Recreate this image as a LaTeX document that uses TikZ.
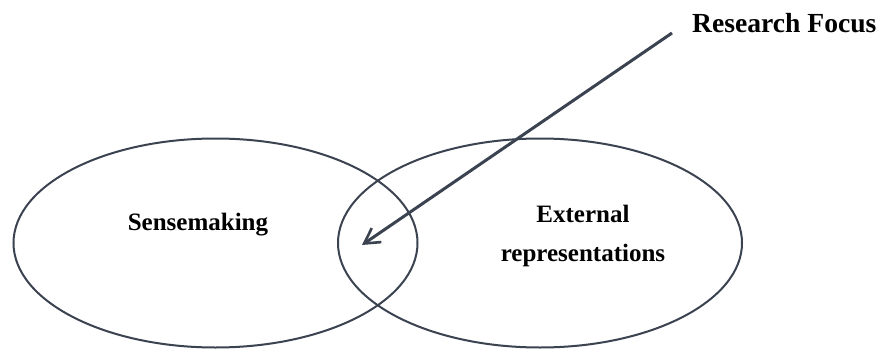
\documentclass[tikz,border=0pt]{standalone}
\usepackage{fontspec}
\setmainfont{Liberation Serif}
\usetikzlibrary{shapes.geometric,arrows.meta}
\definecolor{inkline}{HTML}{3B4250}
\tikzset{
  setring/.style={ellipse, draw=inkline, line width=2pt, inner sep=0pt,
    minimum width=404pt, minimum height=209pt},
  settext/.style={font=\fontsize{25}{39}\selectfont\bfseries, align=center, text=black},
  focusarrow/.style={draw=inkline, line width=3pt,
    -{Straight Barb[length=15pt, width=17pt, line width=2.6pt]}}
}
\begin{document}
\begin{tikzpicture}[x=1pt, y=-1pt]
  \fill[white] (0,0) rectangle (880,350);
  \useasboundingbox (0,0) rectangle (880,350);
  % the two overlapping fields
  \node[setring] (sense) at (215.5,243) {};
  \node[setring] (extrep) at (540,243) {};
  % field labels
  \node[settext] (senselbl) at (198,225) {Sensemaking};
  \node[settext] (extreplbl) at (583,236) {External\\representations};
  % focus label and its pointer into the overlap
  \node[settext, font=\fontsize{27.6}{33}\selectfont\bfseries, anchor=base west, inner sep=0pt]
    (focus) at (692,33) {Research Focus};
  \coordinate (src) at (672,33);
  \coordinate (overlap) at (362,245);
  \draw[focusarrow] (src) -- (overlap);
\end{tikzpicture}
\end{document}
